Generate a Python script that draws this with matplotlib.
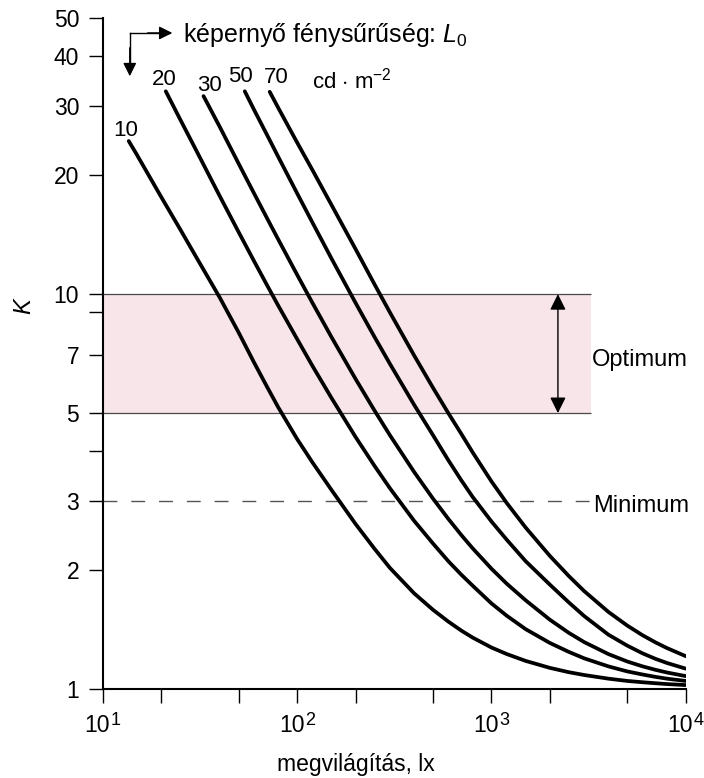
import matplotlib.pyplot as plt
from matplotlib.ticker import NullLocator, NullFormatter
from matplotlib.transforms import ScaledTranslation

plt.rcParams['font.family'] = ['Liberation Sans', 'DejaVu Sans']
plt.rcParams['mathtext.fontset'] = 'custom'
plt.rcParams['mathtext.rm'] = 'Liberation Sans'
plt.rcParams['mathtext.it'] = 'Liberation Sans:italic'

# K vs illuminance (lx), one curve per screen luminance L0
x10 = [13.6, 15, 20, 25, 30, 40, 50, 60, 70, 80, 100, 120, 150, 200, 250, 300, 400, 500, 600, 700, 800,
       1000, 1200, 1500, 2000, 2500, 3000, 4000, 5000, 6000, 7000, 8000, 10000]
k10 = [24.4, 22.5, 17.6, 14.6, 12.5, 9.8, 8.0, 6.72, 5.83, 5.17, 4.3, 3.75, 3.2, 2.62, 2.27, 2.03, 1.75, 1.59, 1.484, 1.408, 1.352,
       1.276, 1.228, 1.18, 1.133, 1.105, 1.087, 1.064, 1.05, 1.042, 1.036, 1.031, 1.025]

x20 = [21.1, 25, 30, 40, 50, 60, 70, 80, 100, 120, 150, 200, 250, 300, 400, 500, 600, 700, 800,
       1000, 1200, 1500, 2000, 2500, 3000, 4000, 5000, 6000, 7000, 8000, 10000]
k20 = [32.6, 27.7, 23.3, 17.7, 14.36, 12.13, 10.54, 9.35, 7.7, 6.58, 5.47, 4.35, 3.68, 3.23, 2.67, 2.34, 2.11, 1.95, 1.83,
       1.65, 1.535, 1.42, 1.31, 1.244, 1.198, 1.143, 1.11, 1.09, 1.075, 1.064, 1.05]

x30 = [33, 40, 50, 60, 70, 80, 100, 120, 150, 200, 250, 300, 400, 500, 600, 700, 800,
       1000, 1200, 1500, 2000, 2500, 3000, 4000, 5000, 6000, 7000, 8000, 10000]
k30 = [31.7, 26.5, 21.4, 18.0, 15.57, 13.75, 11.2, 9.5, 7.8, 6.1, 5.08, 4.4, 3.55, 3.04, 2.7, 2.457, 2.275,
       2.02, 1.85, 1.68, 1.5, 1.39, 1.317, 1.228, 1.176, 1.143, 1.12, 1.103, 1.08]

x50 = [53.8, 60, 70, 80, 100, 120, 150, 200, 250, 300, 400, 500, 600, 700, 800,
       1000, 1200, 1500, 2000, 2500, 3000, 4000, 5000, 6000, 7000, 8000, 10000]
k50 = [32.6, 29.3, 25.3, 22.25, 18.0, 15.17, 12.33, 9.5, 7.8, 6.67, 5.25, 4.4, 3.8, 3.38, 3.07,
       2.66, 2.39, 2.11, 1.84, 1.66, 1.533, 1.375, 1.29, 1.233, 1.194, 1.166, 1.128]

x70 = [72.3, 80, 100, 120, 150, 200, 250, 300, 400, 500, 600, 700, 800,
       1000, 1200, 1500, 2000, 2500, 3000, 4000, 5000, 6000, 7000, 8000, 10000]
k70 = [32.5, 29.6, 24.2, 20.6, 16.85, 13.0, 10.6, 9.0, 7.0, 5.8, 5.0, 4.43, 3.98,
       3.36, 2.96, 2.567, 2.175, 1.936, 1.773, 1.57, 1.45, 1.37, 1.314, 1.272, 1.213]

curves = [(x10, k10), (x20, k20), (x30, k30), (x50, k50), (x70, k70)]
curve_labels = ['10', '20', '30', '50', '70']
label_x = [13.1, 20.7, 35.3, 51.2, 78.3]
label_k = [25.1, 33.8, 32.6, 34.4, 34.2]

k_ticks = [1, 2, 3, 4, 5, 7, 9, 10, 20, 30, 40, 50]
k_ticklabels = ['1', '2', '3', '', '5', '7', '', '10', '20', '30', '40', '50']
x_ticks = [10, 100, 1000, 10000]
x_exponents = ['1', '2', '3', '4']
x_minor = [20, 50, 200, 500, 2000, 5000]

opt_low, opt_high = 5, 10
k_min = 3
band_end = 3250

fig = plt.figure(figsize=(7.04, 7.78), dpi=100)
ax = fig.add_axes([0.146, 0.114, 0.828, 0.863])
ax.set_xscale('log')
ax.set_yscale('log')
ax.set_xlim(10, 10000)
ax.set_ylim(1, 50)

# optimum band and minimum line
ax.fill_between([10, band_end], opt_low, opt_high, color='#f7e5e9', lw=0, zorder=0)
ax.hlines([opt_low, opt_high], 10, band_end, colors='#4a4a4a', lw=0.9, zorder=1)
ax.hlines(k_min, 10, band_end, colors='#555555', lw=1.0, linestyles=(0, (10, 10)), zorder=1)

for (xs, ks), lab, lx, lk in zip(curves, curve_labels, label_x, label_k):
    ax.plot(xs, ks, color='black', lw=2.7, solid_capstyle='round', solid_joinstyle='round', zorder=3)
    ax.text(lx, lk, lab, fontsize=16, ha='center', va='baseline')

ax.text(120, 33.2, r'cd $\cdot$ m$^{\mathrm{-2}}$', fontsize=16, ha='left', va='baseline')

# double arrow for the optimum range
ax.annotate('', xy=(2200, opt_high), xytext=(2200, opt_low),
            arrowprops=dict(arrowstyle='<|-|>', color='black', lw=1.0,
                            mutation_scale=24, shrinkA=0, shrinkB=0))
ax.text(3300, 6.57, 'Optimum', fontsize=17, ha='left', va='baseline')
ax.text(3330, 2.81, 'Minimum', fontsize=17, ha='left', va='baseline')

# bent arrow next to the L0 legend
ax.plot([13.77, 13.77], [36.5, 45.8], color='black', lw=1.0)
ax.plot([13.77, 22.0], [45.8, 45.8], color='black', lw=1.0)
ax.annotate('', xy=(13.77, 35.6), xytext=(13.77, 42),
            arrowprops=dict(arrowstyle='-|>', color='black', lw=1.0,
                            mutation_scale=20, shrinkA=0, shrinkB=0))
ax.annotate('', xy=(22.8, 45.8), xytext=(17, 45.8),
            arrowprops=dict(arrowstyle='-|>', color='black', lw=1.0,
                            mutation_scale=20, shrinkA=0, shrinkB=0))
ax.text(25.8, 43.5, r'képernyő fénysűrűség: $L_{\mathrm{0}}$', fontsize=18, ha='left', va='baseline')

for side in ['top', 'right']:
    ax.spines[side].set_visible(False)
for side in ['left', 'bottom']:
    ax.spines[side].set_linewidth(1.5)

ax.set_yticks(k_ticks)
ax.set_yticklabels(k_ticklabels)
ax.yaxis.set_minor_locator(NullLocator())
ax.set_xticks(x_ticks)
ax.xaxis.set_major_formatter(NullFormatter())
ax.set_xticks(x_minor, minor=True)
ax.xaxis.set_minor_formatter(NullFormatter())
ax.tick_params(which='both', direction='out', length=10, width=1.0, labelsize=16.5, pad=7)

# x tick labels as 10 with a large raised exponent
xtrans = ax.get_xaxis_transform()
for xt, ex in zip(x_ticks, x_exponents):
    base_t = xtrans + ScaledTranslation(-4 / 72, -31 / 72, fig.dpi_scale_trans)
    exp_t = xtrans + ScaledTranslation(9.5 / 72, -26 / 72, fig.dpi_scale_trans)
    ax.text(xt, 0, '10', transform=base_t, fontsize=16.5, ha='center', va='baseline', clip_on=False)
    ax.text(xt, 0, ex, transform=exp_t, fontsize=13, ha='center', va='baseline', clip_on=False)

fig.text(24 / 704, 1 - 306 / 778, 'K', fontsize=17, style='italic', rotation=90, ha='center', va='center')
fig.text(356 / 704, 1 - 771 / 778, 'megvilágítás, lx', fontsize=16.5, ha='center', va='baseline')

fig.savefig('out.png', dpi=100)
